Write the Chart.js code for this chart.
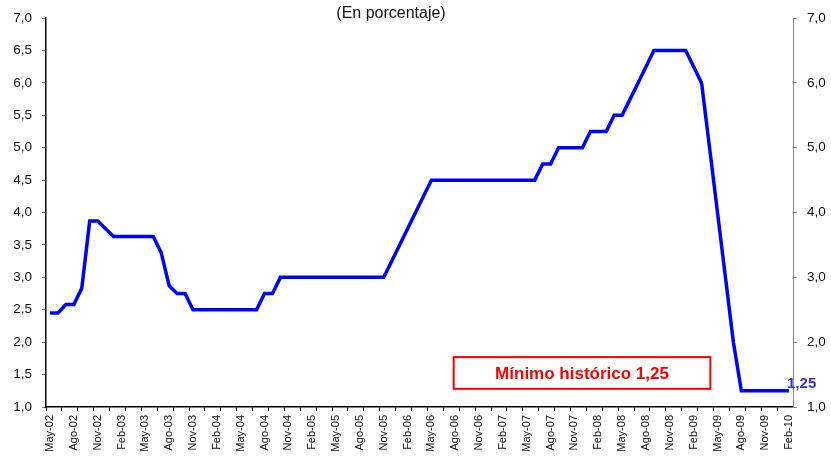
<!DOCTYPE html>
<html>
<head>
<meta charset="utf-8">
<script src="https://cdn.jsdelivr.net/npm/chart.js@4.4.1/dist/chart.umd.min.js"></script>
<style>
html,body{margin:0;padding:0;background:#fff;}
#wrap{width:831px;height:461px;}
</style>
</head>
<body>
<div id="wrap"><canvas id="rateChart" width="831" height="461"></canvas></div>
<script>
/* =========================
   TASA DE REFERENCIA (monthly, May-02 .. Feb-10)
========================= */

const monthNames = ["Ene","Feb","Mar","Abr","May","Jun","Jul","Ago","Set","Oct","Nov","Dic"];
const startYear = 2002;
const startMonth = 4; // May
const monthCount = 94;

const categories = [];
for (let i = 0; i < monthCount; i++) {
  const m = (startMonth + i) % 12;
  const y = startYear + Math.floor((startMonth + i) / 12);
  categories.push(monthNames[m] + "-" + String(y).slice(2));
}

const rates = [
  2.45, 2.45, 2.58, 2.58, 2.83, 3.87, 3.87, 3.75,
  3.63, 3.63, 3.63, 3.63, 3.63, 3.63,
  3.38, 2.87, 2.75, 2.75,
  2.5, 2.5, 2.5, 2.5, 2.5, 2.5, 2.5, 2.5, 2.5,
  2.75, 2.75,
  3.0, 3.0, 3.0, 3.0, 3.0, 3.0, 3.0, 3.0, 3.0, 3.0, 3.0, 3.0, 3.0, 3.0,
  3.25, 3.5, 3.75, 4.0, 4.25,
  4.5, 4.5, 4.5, 4.5, 4.5, 4.5, 4.5, 4.5, 4.5, 4.5, 4.5, 4.5, 4.5, 4.5,
  4.75, 4.75,
  5.0, 5.0, 5.0, 5.0,
  5.25, 5.25, 5.25,
  5.5, 5.5,
  5.75, 6.0, 6.25,
  6.5, 6.5, 6.5, 6.5, 6.5,
  6.25, 6.0, 5.0, 4.0, 3.0, 2.0,
  1.25, 1.25, 1.25, 1.25, 1.25, 1.25, 1.25
];

const leftTicks = [1.0, 1.5, 2.0, 2.5, 3.0, 3.5, 4.0, 4.5, 5.0, 5.5, 6.0, 6.5, 7.0];
const rightTicks = [1.0, 2.0, 3.0, 4.0, 5.0, 6.0, 7.0];

const titleText = "(En porcentaje)";
const noteText = "M\u00ednimo hist\u00f3rico 1,25";
const lastText = "1,25";

const fmt = v => v.toFixed(1).replace(".", ",");
const FONT = "'Liberation Sans', Arial, sans-serif";

const annotations = {
  id: "annotations",
  afterDatasetsDraw(chart) {
    const ctx = chart.ctx;
    const xs = chart.scales.x;
    const ys = chart.scales.y;

    // red note box
    const bx1 = xs.getPixelForValue(50.8);
    const bx2 = xs.getPixelForValue(83.1);
    const by1 = ys.getPixelForValue(1.77);
    const by2 = ys.getPixelForValue(1.28);
    ctx.save();
    ctx.strokeStyle = "#ff0000";
    ctx.lineWidth = 2;
    ctx.strokeRect(bx1, by1, bx2 - bx1, by2 - by1);
    ctx.fillStyle = "#ff0000";
    ctx.font = "bold 17px " + FONT;
    ctx.textAlign = "center";
    ctx.textBaseline = "middle";
    ctx.fillText(noteText, (bx1 + bx2) / 2, (by1 + by2) / 2 + 1);

    // last value label
    const last = rates.length - 1;
    const lx = xs.getPixelForValue(last);
    const lyv = ys.getPixelForValue(rates[last]);
    ctx.fillStyle = "#3333cc";
    ctx.font = "bold 15px " + FONT;
    ctx.textAlign = "left";
    ctx.fillText(lastText, lx - 2, lyv - 7);

    // subtitle
    ctx.fillStyle = "#111";
    ctx.font = "16px " + FONT;
    ctx.textAlign = "center";
    ctx.fillText(titleText, 391, 14);
    ctx.restore();
  }
};

new Chart(document.getElementById("rateChart"), {
  type: "line",
  data: {
    labels: categories,
    datasets: [{
      data: rates,
      borderColor: "#0000ff",
      borderWidth: 3.5,
      pointRadius: 0,
      fill: false,
      tension: 0,
      yAxisID: "y"
    }]
  },
  options: {
    responsive: false,
    animation: false,
    layout: { padding: { top: 18 } },
    plugins: {
      legend: { display: false },
      tooltip: { enabled: false },
      title: { display: false }
    },
    scales: {
      x: {
        type: "category",
        offset: true,
        afterFit: s => { s.height = 54; },
        grid: {
          offset: true,
          drawOnChartArea: false,
          tickLength: 4,
          tickColor: c => (c.index % 2 === 0 ? "#000" : "rgba(0,0,0,0)")
        },
        border: { color: "#000", width: 1.5 },
        ticks: {
          autoSkip: false,
          minRotation: 90,
          maxRotation: 90,
          padding: 4,
          color: "#111",
          font: { family: FONT, size: 11 },
          callback: function (v, i) {
            return i % 3 === 0 ? this.getLabelForValue(v) : "";
          }
        }
      },
      y: {
        position: "left",
        min: 1,
        max: 7,
        afterFit: s => { s.width = 46; },
        afterBuildTicks: s => { s.ticks = leftTicks.map(v => ({ value: v })); },
        grid: { drawOnChartArea: false, tickLength: 4, tickColor: "#777" },
        border: { color: "#000", width: 1.5 },
        ticks: {
          padding: 10,
          color: "#111",
          font: { family: FONT, size: 13.5 },
          callback: v => fmt(v)
        }
      },
      y2: {
        position: "right",
        min: 1,
        max: 7,
        afterFit: s => { s.width = 38; },
        afterBuildTicks: s => { s.ticks = rightTicks.map(v => ({ value: v })); },
        grid: { drawOnChartArea: false, tickLength: 4, tickColor: "#888" },
        border: { color: "#888", width: 1 },
        ticks: {
          padding: 10,
          color: "#111",
          font: { family: FONT, size: 13.5 },
          callback: v => fmt(v)
        }
      }
    }
  },
  plugins: [annotations]
});
</script>
</body>
</html>
